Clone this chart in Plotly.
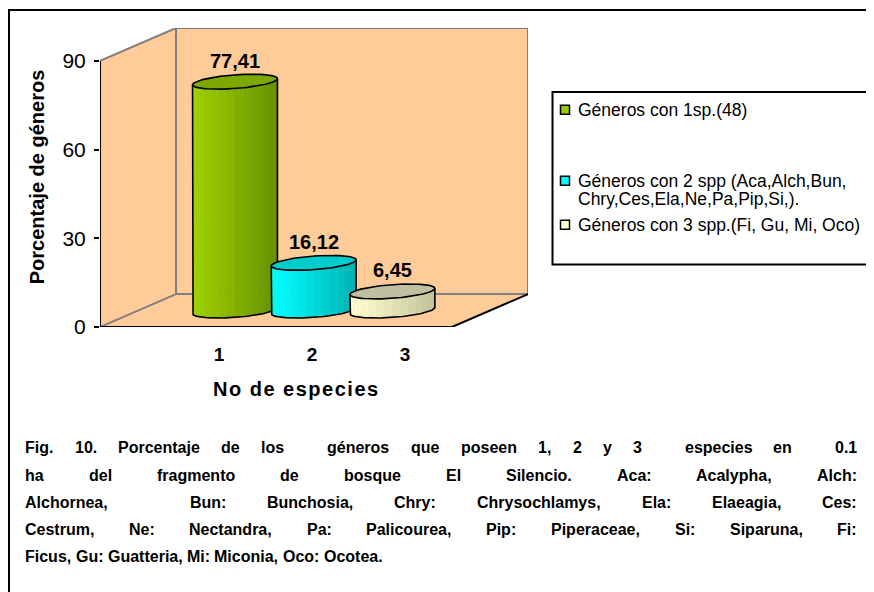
import re
import numpy as np
import plotly.graph_objects as go

# ---------------- data ----------------
categories = [1, 2, 3]
values = [77.41, 16.12, 6.45]
value_labels = ["77,41", "16,12", "6,45"]
tick_labels = ["1", "2", "3"]
y_ticks = [0, 30, 60, 90]
series_names = [
    ["Géneros con 1sp.(48)"],
    ["Géneros con 2 spp (Aca,Alch,Bun,", "Chry,Ces,Ela,Ne,Pa,Pip,Si,)."],
    ["Géneros con 3 spp.(Fi, Gu, Mi, Oco)"],
]
colors_light = ["#9DD000", "#00FFFF", "#FFFFD0"]
colors_dark = ["#648F00", "#00B0B0", "#C2C29A"]
colors_cap = ["#7DA800", "#00CCCC", "#C0C0A0"]
legend_colors = ["#99CC00", "#00FFFF", "#FFFFCC"]
x_title = "No de especies"
y_title = "Porcentaje de géneros"
caption_lines = [
    "Fig. 10. Porcentaje de los  géneros que poseen 1, 2 y 3  especies en  0.1",
    "ha del fragmento de bosque El Silencio. Aca: Acalypha, Alch:",
    "Alchornea,  Bun: Bunchosia, Chry: Chrysochlamys, Ela: Elaeagia, Ces:",
    "Cestrum, Ne: Nectandra, Pa: Palicourea, Pip: Piperaceae, Si: Siparuna, Fi:",
    "Ficus, Gu: Guatteria, Mi: Miconia, Oco: Ocotea.",
]

# ---------------- geometry (page pixels) ----------------
W, H = 874, 592
ORG = 8                                # page offset of the figure (body margin)
PL, PR, PB = 100, 528, 327.5          # plot area left/right, value-0 baseline
PX_PER_UNIT_Y = (PB - 61) / 90.0      # pixels per percent
DEPTH_PX_X, DEPTH_PX_Y = 76, 33       # oblique depth offset
CAT_PX = 78.7                          # px between bars
BAR1_PX = 197                          # front-plane centre of first bar
LABEL_CAT_PX = 93                      # px between category labels
LABEL2_PX = 312                        # px of middle category label

DY = DEPTH_PX_Y / PX_PER_UNIT_Y
DX = DEPTH_PX_X / CAT_PX
YMAX = max(y_ticks) + DY
PT = PB - YMAX * PX_PER_UNIT_Y
FW, FH = W - ORG, H - ORG


def xu(px):
    return categories[0] + (px - BAR1_PX) / CAT_PX


def pxx(px):
    return (px - PL) / (PR - PL)


def pxy(py):
    return (PB - py) / (PB - PT)


X_LEFT, X_RIGHT = xu(PL), xu(PR)
X_FLOOR_R = X_RIGHT - DX
Y_TOP = max(y_ticks)

# cylinder parameters
RD = 0.227                      # depth radius (fraction of depth)
A = 38.8 / CAT_PX               # x radius
B = RD * DX
C = RD * DY
PHI = np.arctan2(B, A)


def ell(xc, yc, t):
    return xc + A * np.cos(t) + B * np.sin(t), yc + C * np.sin(t)


def mix(c1, c2, f):
    a = [int(c1[i:i + 2], 16) for i in (1, 3, 5)]
    b = [int(c2[i:i + 2], 16) for i in (1, 3, 5)]
    return "rgb(%d,%d,%d)" % tuple(round(a[k] + (b[k] - a[k]) * f) for k in range(3))


fig = go.Figure()

N_STRIPS = 16
for i, (cat, val) in enumerate(zip(categories, values)):
    xc = cat + 0.5 * DX
    ytop = val + 0.5 * DY
    ybot = 0.5 * DY
    ts = np.linspace(np.pi + PHI, 2 * np.pi + PHI, N_STRIPS + 1)
    xl, _ = ell(xc, 0, ts[0])
    xr, _ = ell(xc, 0, ts[-1])
    for s in range(N_STRIPS):
        t = np.linspace(ts[s], ts[s + 1], 6)
        tx, ty = ell(xc, ytop, t)
        bx, by = ell(xc, ybot, t[::-1])
        xm = 0.5 * (tx[0] + tx[-1])
        f = (xm - xl) / (xr - xl)
        col = mix(colors_light[i], colors_dark[i], f ** 1.1)
        fig.add_trace(go.Scatter(
            x=np.concatenate([tx, bx]), y=np.concatenate([ty, by]),
            mode="lines", fill="toself", fillcolor=col,
            line=dict(color=col, width=0.8), hoverinfo="skip", showlegend=False))
    tb = np.linspace(ts[0], ts[-1], 60)
    bx, by = ell(xc, ybot, tb)
    ox = np.concatenate([[xl], bx, [xr]])
    oy = np.concatenate([[ytop + C * np.sin(ts[0])], by, [ytop + C * np.sin(ts[-1])]])
    fig.add_trace(go.Scatter(x=ox, y=oy, mode="lines",
                             line=dict(color="black", width=1.6),
                             hoverinfo="skip", showlegend=False))
    tc = np.linspace(0, 2 * np.pi, 81)
    cx, cy = ell(xc, ytop, tc)
    fig.add_trace(go.Scatter(x=cx, y=cy, mode="lines", fill="toself",
                             fillcolor=colors_cap[i],
                             line=dict(color="black", width=1.6),
                             hoverinfo="skip", showlegend=False))

BASE_FONT = "Liberation Sans, Arial, sans-serif"
annotations = []
for cat, val, lab in zip(categories, values, value_labels):
    annotations.append(dict(x=cat + 0.5 * DX, y=val + 0.5 * DY, xref="x", yref="y",
                            xanchor="center", yanchor="middle",
                            text="<b>%s</b>" % lab, showarrow=False, yshift=21,
                            font=dict(family=BASE_FONT, size=20, color="black")))

# ---------------- walls ----------------
shapes = []
wall_path = ("M %f,%f L %f,%f L %f,%f L %f,%f L %f,%f L %f,%f Z" % (
    X_LEFT, 0, X_LEFT, Y_TOP, X_LEFT + DX, Y_TOP + DY, X_RIGHT, Y_TOP + DY,
    X_RIGHT, DY, X_FLOOR_R, 0))
shapes.append(dict(type="path", path=wall_path, xref="x", yref="y",
                   fillcolor="#FFCC99", line=dict(width=0), layer="below"))
GRAY = "#7F7F7F"
gray_segs = [
    (X_LEFT, Y_TOP, X_LEFT + DX, Y_TOP + DY),
    (X_LEFT + DX, Y_TOP + DY, X_RIGHT, Y_TOP + DY),
    (X_RIGHT, Y_TOP + DY, X_RIGHT, DY),
    (X_LEFT + DX, Y_TOP + DY, X_LEFT + DX, DY),
    (X_LEFT + DX, DY, X_RIGHT, DY),
    (X_LEFT, 0, X_LEFT + DX, DY),
]
for x0, y0, x1, y1 in gray_segs:
    shapes.append(dict(type="line", x0=x0, y0=y0, x1=x1, y1=y1, xref="x", yref="y",
                       line=dict(color=GRAY, width=2), layer="below"))
black_segs = [
    (X_LEFT, 0, X_LEFT, Y_TOP),
    (X_LEFT, 0, X_FLOOR_R, 0),
    (X_FLOOR_R, 0, X_RIGHT, DY),
]
for x0, y0, x1, y1 in black_segs:
    shapes.append(dict(type="line", x0=x0, y0=y0, x1=x1, y1=y1, xref="x", yref="y",
                       line=dict(color="black", width=2), layer="below"))

# outer frame (only left and top edges are inside the picture)
shapes.append(dict(type="line", xref="paper", yref="paper", x0=pxx(9), y0=pxy(H + 20),
                   x1=pxx(9), y1=pxy(10), line=dict(color="black", width=2)))
shapes.append(dict(type="line", xref="paper", yref="paper", x0=pxx(8), y0=pxy(10),
                   x1=pxx(W + 20), y1=pxy(10), line=dict(color="black", width=2)))

# ---------------- legend (drawn) ----------------
shapes.append(dict(type="rect", xref="paper", yref="paper", x0=pxx(552.5), y0=pxy(92),
                   x1=pxx(W + 30), y1=pxy(265), line=dict(color="black", width=2),
                   fillcolor="white"))
legend_rows = [[110], [181, 199], [225]]
for i, rows in enumerate(legend_rows):
    yc = rows[0]
    shapes.append(dict(type="rect", xref="paper", yref="paper", x0=pxx(560.5),
                       y0=pxy(yc + 4.5), x1=pxx(569.5), y1=pxy(yc - 4.5),
                       fillcolor=legend_colors[i], line=dict(color="black", width=1.5)))
    for txt, yy in zip(series_names[i], rows):
        annotations.append(dict(x=pxx(576), y=pxy(yy), xref="paper", yref="paper",
                                xanchor="left", yanchor="middle", text=txt, showarrow=False,
                                font=dict(family=BASE_FONT, size=17.5, color="black")))

# ---------------- titles ----------------
annotations.append(dict(x=pxx(296.5), y=pxy(390), xref="paper", yref="paper",
                        xanchor="center", yanchor="middle",
                        text="<span style=\"letter-spacing:1.5px\"><b>%s</b></span>" % x_title,
                        showarrow=False,
                        font=dict(family=BASE_FONT, size=20, color="black")))
annotations.append(dict(x=pxx(36.5), y=pxy(177), xref="paper", yref="paper",
                        xanchor="center", yanchor="middle",
                        text="<b>%s</b>" % y_title, showarrow=False, textangle=-90,
                        font=dict(family=BASE_FONT, size=20, color="black")))

# ---------------- caption (justified) ----------------
AW = {' ': 278, '(': 333, ')': 333, ',': 278, '-': 333, '.': 278, ':': 333, ';': 333,
      'A': 722, 'B': 722, 'C': 722, 'D': 722, 'E': 667, 'F': 611, 'G': 778, 'H': 722,
      'I': 278, 'J': 556, 'K': 722, 'L': 611, 'M': 833, 'N': 722, 'O': 778, 'P': 667,
      'Q': 778, 'R': 722, 'S': 667, 'T': 611, 'U': 722, 'V': 667, 'W': 944, 'X': 667,
      'Y': 667, 'Z': 611, 'a': 556, 'b': 611, 'c': 556, 'd': 611, 'e': 556, 'f': 333,
      'g': 611, 'h': 611, 'i': 278, 'j': 278, 'k': 556, 'l': 278, 'm': 889, 'n': 611,
      'o': 611, 'p': 611, 'q': 611, 'r': 389, 's': 556, 't': 333, 'u': 611, 'v': 556,
      'w': 778, 'x': 556, 'y': 556, 'z': 500, 'é': 556}
CAP_FONT = 16


def tw(s):
    return sum(AW.get(ch, 556) for ch in s) / 1000.0 * CAP_FONT


CAP_X0, CAP_X1 = 23, 855
cap_y = [448, 476, 503, 530, 557]
for li, line in enumerate(caption_lines):
    toks = re.findall(r"\S+|\s+", line)
    words = [t for t in toks if not t.isspace()]
    nspace = sum(len(t) for t in toks if t.isspace())
    wsum = sum(tw(w) for w in words)
    if li < len(caption_lines) - 1:
        sp = (CAP_X1 - CAP_X0 - wsum) / nspace
    else:
        sp = tw(" ")
    xpos = CAP_X0
    for t in toks:
        if t.isspace():
            xpos += sp * len(t)
        else:
            annotations.append(dict(x=pxx(xpos), y=pxy(cap_y[li]), xref="paper", yref="paper",
                                    xanchor="left", yanchor="middle", text="<b>%s</b>" % t,
                                    showarrow=False,
                                    font=dict(family=BASE_FONT, size=CAP_FONT, color="black")))
            xpos += tw(t)

fig.update_layout(
    width=FW, height=FH,
    margin=dict(l=PL - ORG, r=FW - (PR - ORG), t=PT - ORG, b=FH - (PB - ORG), pad=0),
    paper_bgcolor="white", plot_bgcolor="white",
    showlegend=False,
    shapes=shapes, annotations=annotations,
    xaxis=dict(range=[X_LEFT, X_RIGHT], visible=False, fixedrange=True),
    xaxis2=dict(range=[2 + (PL - LABEL2_PX) / LABEL_CAT_PX, 2 + (PR - LABEL2_PX) / LABEL_CAT_PX],
                overlaying="x", anchor="y", side="bottom",
                tickvals=categories, ticktext=["<b>%s</b>" % t for t in tick_labels],
                ticks="outside", ticklen=10, tickcolor="rgba(0,0,0,0)",
                showgrid=False, zeroline=False, showline=False,
                tickfont=dict(family=BASE_FONT, size=19, color="black")),
    yaxis=dict(range=[0, YMAX], tickvals=y_ticks, ticks="outside", ticklen=5,
               tickwidth=1.5, tickcolor="black", showgrid=False, zeroline=False,
               showline=False, ticklabelstandoff=4,
               tickfont=dict(family=BASE_FONT, size=21, color="black")),
)
fig.add_trace(go.Scatter(x=[None], y=[None], xaxis="x2", yaxis="y", showlegend=False,
                         hoverinfo="skip"))

fig.write_html("out.html")
